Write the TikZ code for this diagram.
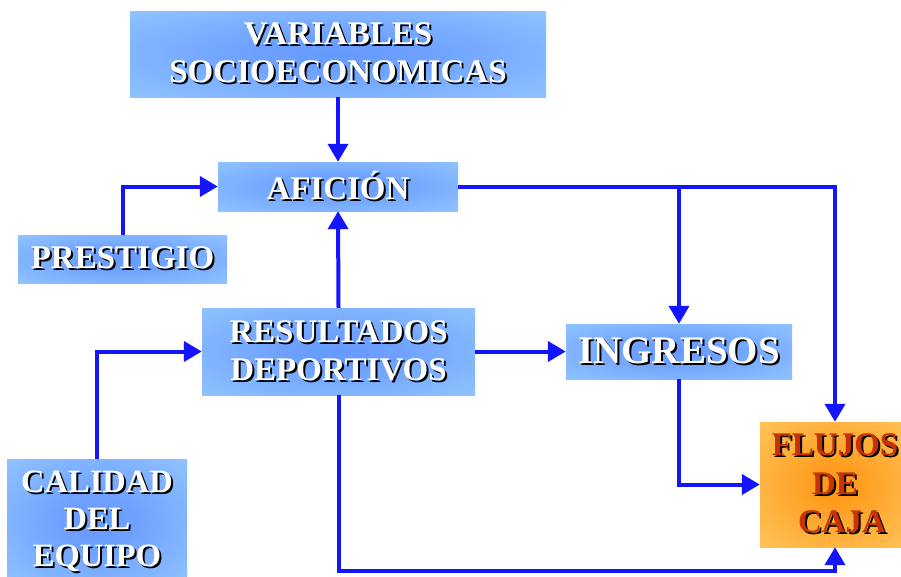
\documentclass[tikz,border=0pt]{standalone}
\usepackage{fontspec}
\setmainfont{Liberation Serif}
\usetikzlibrary{arrows.meta}
\definecolor{bedge}{RGB}{153,204,255}
\definecolor{bcen}{RGB}{102,153,255}
\definecolor{oedge}{RGB}{255,204,102}
\definecolor{ocen}{RGB}{255,150,20}
\definecolor{arrblue}{RGB}{20,20,255}
\definecolor{flutext}{RGB}{200,50,0}
\pgfdeclareradialshading{blueglow}{\pgfpointorigin}{color(0bp)=(bcen); color(10bp)=(bcen!85!bedge); color(42bp)=(bedge); color(100bp)=(bedge)}
\pgfdeclareradialshading{orangeglow}{\pgfpointorigin}{color(0bp)=(ocen); color(8bp)=(ocen!85!oedge); color(42bp)=(oedge); color(100bp)=(oedge)}
\newcommand\shtx[2][white]{\makebox[0pt][l]{\kern2pt\raisebox{-2pt}{\textcolor{black}{#2}}}\textcolor{#1}{#2}}
\tikzset{
  box/.style={shade, shading=blueglow, inner sep=0pt, align=center,
    font=\fontsize{33}{38}\selectfont\bfseries},
  obox/.style={shade, shading=orangeglow, inner sep=0pt, align=center,
    font=\fontsize{33}{38.5}\selectfont\bfseries},
  arr/.style={draw=arrblue, line width=4pt, -{Triangle[length=18pt,width=20pt]}}
}
\begin{document}
\begin{tikzpicture}[x=1pt,y=-1pt]
\useasboundingbox (0,0) rectangle (901,576);
\fill[white] (0,0) rectangle (901,576);
\clip (0,0) rectangle (901,576);
\node[box, minimum width=416pt, minimum height=86pt] (var) at (338,54)
  {\shtx{VARIABLES}\\\shtx{SOCIOECONOMICAS}};
\node[box, minimum width=240pt, minimum height=49pt] (afi) at (338,186.5)
  {\shtx{AFICIÓN}};
\node[box, minimum width=209pt, minimum height=48pt] (pre) at (122.5,259)
  {\shtx{PRESTIGIO}};
\node[box, minimum width=273pt, minimum height=87pt] (res) at (338.5,351.5)
  {\shtx{RESULTADOS}\\\shtx{DEPORTIVOS}};
\node[box, minimum width=226pt, minimum height=55pt, font=\fontsize{39}{44}\selectfont\bfseries] (ing) at (679,351.5)
  {\shtx{INGRESOS}};
\node[box, minimum width=180pt, minimum height=126pt, font=\fontsize{32.5}{37}\selectfont\bfseries] (cal) at (97,522)
  {\shtx{CALIDAD}\\\shtx{DEL}\\\shtx{EQUIPO}};
\node[obox, minimum width=150pt, minimum height=125pt] (flu) at (835,484.5)
  {\shtx[flutext]{FLUJOS}\\\shtx[flutext]{DE}\\\hspace*{14pt}\shtx[flutext]{CAJA}};
\coordinate (bl) at (338.5,571);
\draw[arr] (var.south) -- (afi.north);
\draw[arr] (pre.north) |- (afi.west);
\draw[arr] (res.north) -- (afi.south);
\draw[arr] (afi.east) -| (flu.north);
\draw[arr] (ing.north |- afi.east) -- (ing.north);
\draw[arr] (cal.north) |- (res.west);
\draw[arr] (res.east) -- (ing.west);
\draw[arr] (ing.south) |- (flu.west);
\draw[arr] (res.south) -- (bl) -| (flu.south);
\end{tikzpicture}
\end{document}
